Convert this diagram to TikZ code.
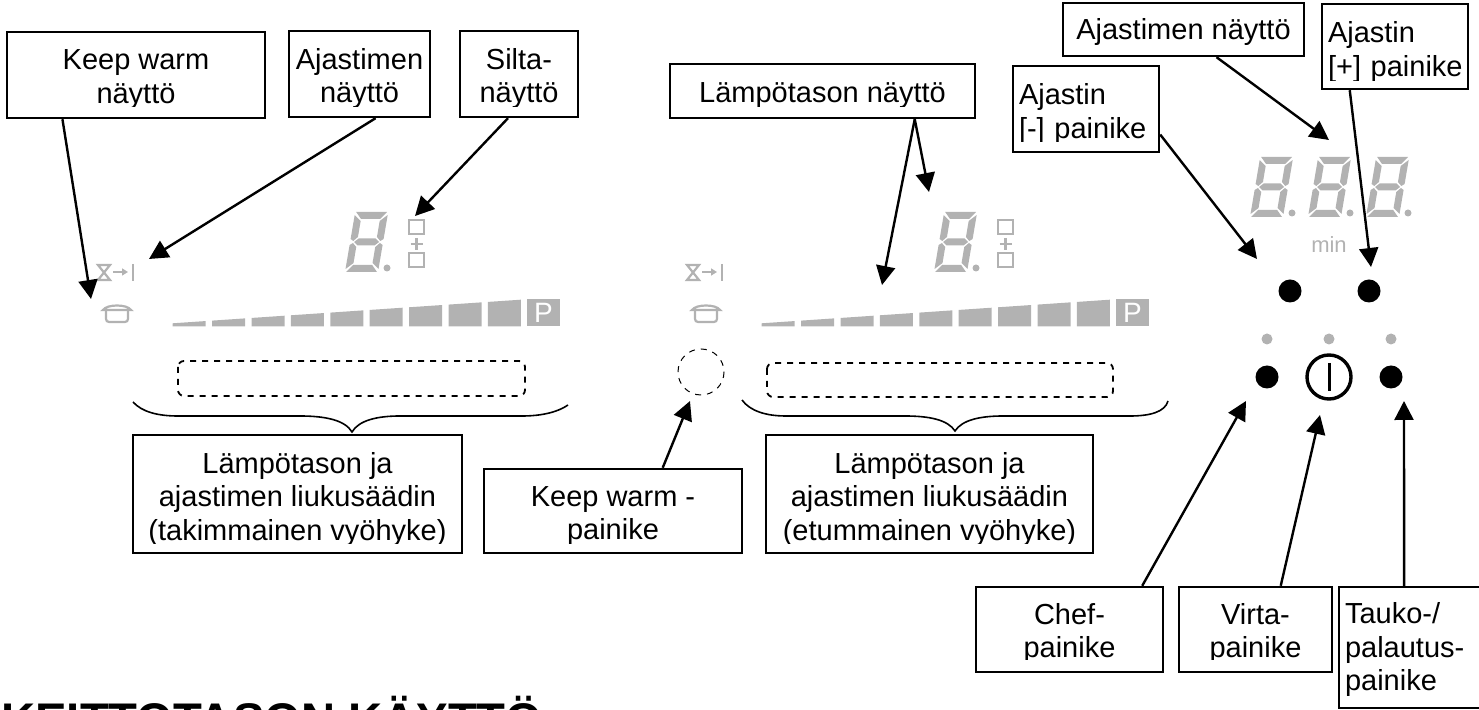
\documentclass[tikz,border=0pt]{standalone}
\usepackage{fontspec}
\setmainfont{Liberation Sans}
\usetikzlibrary{arrows.meta}

\definecolor{panelgray}{gray}{0.7}
\tikzset{
  x=.5pt, y=-.5pt,
  labelbox/.style n args={3}{draw, line width=1.2pt, inner sep=3pt, align=center,
    font=\fontsize{14.5}{16.75}\selectfont, minimum width=#1, minimum height=#2,
    text height=#3, text depth=0pt},
  leftbox/.style n args={2}{align=left, text width=#1, text height=0pt, text depth=#2},
  callout/.style={line width=1.2pt, -{Triangle[length=9.5pt,width=9.5pt]}},
  icon/.style={panelgray, line width=1.1pt},
  sevendigit/.pic={
    \begin{scope}[xslant=.17, panelgray]
      \fill (1,-60) -- (32,-60) -- (26,-53) -- (7,-53) -- cycle;
      \fill (1,0) -- (32,0) -- (26,-7) -- (7,-7) -- cycle;
      \fill (4,-30) -- (8,-33.5) -- (25,-33.5) -- (29,-30) -- (25,-26.5) -- (8,-26.5) -- cycle;
      \fill (0,-57) -- (7,-51) -- (7,-35) -- (3,-31) -- (0,-33) -- cycle;
      \fill (33,-57) -- (26,-51) -- (26,-35) -- (30,-31) -- (33,-33) -- cycle;
      \fill (0,-3) -- (7,-9) -- (7,-25) -- (3,-29) -- (0,-27) -- cycle;
      \fill (33,-3) -- (26,-9) -- (26,-25) -- (30,-29) -- (33,-27) -- cycle;
    \end{scope}
    \fill[panelgray] (42,-4) circle[radius=3.5];
  }
}

\begin{document}
\begin{tikzpicture}
  \useasboundingbox (0,0) rectangle (1479,710);

  % the two cooking zones
  \foreach \zoneshift in {0,589} {
    \begin{scope}[xshift=\zoneshift*.5pt]
      \pic at (345,272) {sevendigit};
      \draw[icon] (409,220) rectangle (424,234);
      \draw[icon] (410.5,244) -- (422.5,244) (416.5,238) -- (416.5,250);
      \draw[icon] (409,253) rectangle (424,267);
      \draw[icon] (98,265) -- (110,265) -- (98,280) -- (110,280) -- cycle;
      \draw[icon, -{Triangle[length=3pt,width=3.5pt]}] (113,272) -- (128,272);
      \draw[icon] (133,264) -- (133,281);
      \draw[icon] (103,310) .. controls (107,304) and (127,304) .. (131,310) -- cycle;
      \draw[icon, rounded corners=1.5pt] (106,311) -- (106,322) -- (128,322) -- (128,311);
      \foreach \i in {0,...,8} {
        \pgfmathsetmacro\barleft{172.7+39.4*\i}
        \pgfmathsetmacro\barright{\barleft+33}
        \fill[panelgray] (\barleft,326.3) -- (\barright,326.3)
          -- (\barright,{323.3-.0678*(\barright-172.7)})
          -- (\barleft,{323.3-.0678*(\barleft-172.7)}) -- cycle;
      }
      \node (plate\zoneshift) [fill=panelgray, text=white, inner sep=0pt, minimum width=16.5pt,
        minimum height=13.5pt, font=\fontsize{14}{14}\selectfont] at (543.5,312.8) {P};
    \end{scope}
  }
  \draw[dashed, line width=.9pt, rounded corners=3pt] (178,361) rectangle (525,396);
  \draw[dashed, line width=.9pt, rounded corners=3pt] (767,363) rectangle (1113,397);
  \draw[dashed, line width=.5pt] (701,372) circle[radius=23];

  % braces
  \draw[line width=.8pt] (133,402) .. controls (142,412) and (158,416) .. (178,416) -- (300,416)
    .. controls (325,416) and (345,420) .. (352,432) .. controls (359,420) and (378,416) .. (400,416)
    -- (522,416) .. controls (542,416) and (558,412) .. (568,405);
  \draw[line width=.8pt] (742,400) .. controls (750,411) and (766,416) .. (786,416) -- (905,416)
    .. controls (930,416) and (948,420) .. (955,431) .. controls (962,420) and (980,416) .. (1003,416)
    -- (1130,416) .. controls (1150,416) and (1165,412) .. (1168,401);

  % timer display and buttons
  \pic at (1250,217) {sevendigit};
  \pic at (1308,217) {sevendigit};
  \pic at (1366,217) {sevendigit};
  \node (minlabel) [text=panelgray, font=\fontsize{11}{11}\selectfont, inner sep=0pt] at (1329,245) {min};
  \foreach \bx/\by in {1290/291,1369/291,1267/377,1391/377}
    \fill (\bx,\by) circle[radius=11.5];
  \foreach \dx in {1267,1329,1391}
    \fill[panelgray] (\dx,339) circle[radius=5.5];
  \draw[line width=1.7pt] (1329,377) circle[radius=22];
  \draw[line width=1.5pt] (1329,363) -- (1329,391);

  % labels
  \node (warmlabel) [labelbox={129pt}{43pt}{28.5pt}] at (136,75) {Keep warm\\näyttö};
  \node (timerlabel) [labelbox={70.5pt}{43pt}{29pt}] at (359.5,74) {Ajastimen\\näyttö};
  \node (bridgelabel) [labelbox={59pt}{43pt}{29pt}] at (519,74) {Silta-\\näyttö};
  \node (heatlabel) [labelbox={152.5pt}{27pt}{12pt}] at (822.5,91) {Lämpötason näyttö};
  \node (clocklabel) [labelbox={120.5pt}{26.5pt}{10.5pt}] at (1183.5,29.5) {Ajastimen näyttö};
  \node (pluslabel) [labelbox={73pt}{42.5pt}{0pt}, leftbox={67pt}{3.8pt}] at (1395,46.5) {Ajastin\\\mbox{[+] painike}};
  \node (minuslabel) [labelbox={73pt}{43pt}{0pt}, leftbox={67pt}{4.3pt}] at (1086,109) {Ajastin\\\mbox{[-] painike}};
  \node (backlabel) [labelbox={164.5pt}{59pt}{46.5pt}] at (297.5,494) {Lämpötason ja\\ajastimen liukusäädin\\(takimmainen vyöhyke)};
  \node (keeplabel) [labelbox={129pt}{42pt}{29pt}] at (613,511) {Keep warm -\\painike};
  \node (frontlabel) [labelbox={163.5pt}{59pt}{46.5pt}] at (929.5,494) {Lämpötason ja\\ajastimen liukusäädin\\(etummainen vyöhyke)};
  \node (cheflabel) [labelbox={93.5pt}{42.5pt}{28.5pt}] at (1069.5,629.5) {Chef-\\painike};
  \node (powerlabel) [labelbox={76.5pt}{42.5pt}{28.5pt}] at (1255.5,629.5) {Virta-\\painike};
  \node (pauselabel) [labelbox={70.5pt}{60.5pt}{0pt}, leftbox={64.5pt}{23.5pt}] at (1409.5,647.5) {Tauko-/\\palautus-\\painike};
  \node (title) [anchor=base west, inner sep=0pt, font=\fontsize{23.6}{23.6}\selectfont\bfseries] at (1,737) {KEITTOTASON KÄYTTÖ};

  % the text boxes cut their last line off
  \foreach \boxname/\cutoff in {warmlabel/6pt,timerlabel/5.5pt,bridgelabel/5.5pt,heatlabel/6pt,
      clocklabel/6pt,pluslabel/4.5pt,minuslabel/5.5pt,backlabel/5pt,keeplabel/5pt,frontlabel/5pt,
      cheflabel/6.5pt,powerlabel/6.5pt,pauselabel/6.5pt}
    \fill[white] ([xshift=1.2pt,yshift=1.2pt]\boxname.south west)
      rectangle ([xshift=-1.2pt,yshift=\cutoff]\boxname.south east);

  % arrow ends
  \coordinate (warmtip) at (91,299);
  \coordinate (timertip) at (149,259);
  \coordinate (bridgetip) at (415,216);
  \coordinate (heattipa) at (882,285);
  \coordinate (heattipb) at (929,192);
  \coordinate (clocktip) at (1329,140);
  \coordinate (plustip) at (1371,267);
  \coordinate (minustip) at (1257,259);
  \coordinate (cheftip) at (1246,401);
  \coordinate (powertip) at (1320,415);
  \coordinate (pausetip) at (1404,401);
  \coordinate (keeptip) at (690,401);

  \draw[callout] (warmlabel.211) -- (warmtip);
  \draw[callout] (timerlabel.-70.2) -- (timertip);
  \draw[callout] (bridgelabel.-104.3) -- (bridgetip);
  \draw[callout] (heatlabel.-17.9) -- (heattipa);
  \draw[callout] (heatlabel.-17.9) -- (heattipb);
  \draw[callout] (clocklabel.-40.1) -- (clocktip);
  \draw[callout] (pluslabel.-136.6) -- (plustip);
  \draw[callout] (minuslabel.-19.6) -- (minustip);
  \draw[callout] (cheflabel.31.1) -- (cheftip);
  \draw[callout] (powerlabel.60) -- (powertip);
  \draw[callout] (pauselabel.95.2) -- (pausetip);
  \draw[callout] (keeplabel.41.2) -- (keeptip);
\end{tikzpicture}
\end{document}
